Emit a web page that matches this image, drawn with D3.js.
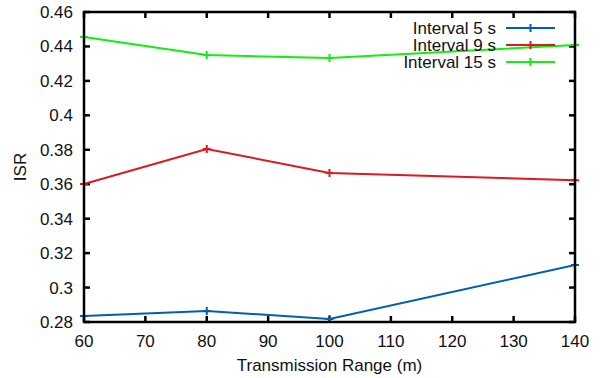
<html>
<head>
  <script src="https://d3js.org/d3.v7.min.js"></script>
  <style>
    body { margin: 0; background: white; }
    text { font-family: "Liberation Sans", Arial, sans-serif; font-size: 17px; fill: #111; }
    .frame { fill: none; stroke: black; stroke-width: 2.5px; }
  </style>
</head>
<body>
  <svg id="chart" width="604" height="378"></svg>
  <script>
    const ranges = [60, 80, 100, 140];
    const interval5 = [0.2835, 0.2864, 0.2817, 0.3131];
    const interval9 = [0.3601, 0.3805, 0.3665, 0.3623];
    const interval15 = [0.4455, 0.4350, 0.4333, 0.4408];
    const seriesNames = ["Interval 5 s", "Interval 9 s", "Interval 15 s"];
    const colors = ["#0060ad", "#dd181f", "#11ee11"];
    const xTicks = [60, 70, 80, 90, 100, 110, 120, 130, 140];
    const yTicks = [0.28, 0.3, 0.32, 0.34, 0.36, 0.38, 0.4, 0.42, 0.44, 0.46];

    const svg = d3.select("#chart");
    const margin = { top: 12, right: 29, bottom: 56, left: 84 };
    const w = 604 - margin.left - margin.right;
    const h = 378 - margin.top - margin.bottom;

    const x = d3.scaleLinear().domain([60, 140]).range([0, w]);
    const y = d3.scaleLinear().domain([0.28, 0.46]).range([h, 0]);

    const g = svg.append("g").attr("transform", `translate(${margin.left},${margin.top})`);

    // tick marks inward on all four sides
    const tickLen = 6;
    g.selectAll("line.xt").data(xTicks).join("line")
      .attr("x1", d => x(d)).attr("x2", d => x(d))
      .attr("y1", h).attr("y2", h - tickLen)
      .attr("stroke", "black").attr("stroke-width", 2.5);
    g.selectAll("line.xt2").data(xTicks).join("line")
      .attr("x1", d => x(d)).attr("x2", d => x(d))
      .attr("y1", 0).attr("y2", tickLen)
      .attr("stroke", "black").attr("stroke-width", 2.5);
    g.selectAll("line.yt").data(yTicks).join("line")
      .attr("x1", 0).attr("x2", tickLen)
      .attr("y1", d => y(d)).attr("y2", d => y(d))
      .attr("stroke", "black").attr("stroke-width", 2.5);
    g.selectAll("line.yt2").data(yTicks).join("line")
      .attr("x1", w).attr("x2", w - tickLen)
      .attr("y1", d => y(d)).attr("y2", d => y(d))
      .attr("stroke", "black").attr("stroke-width", 2.5);

    g.selectAll("text.xl").data(xTicks).join("text")
      .attr("x", d => x(d)).attr("y", h + 25)
      .attr("text-anchor", "middle").text(d => d);
    g.selectAll("text.yl").data(yTicks).join("text")
      .attr("x", -11).attr("y", d => y(d) + 6)
      .attr("text-anchor", "end").text(d => +d.toFixed(2));

    const line = d3.line().x((d, i) => x(ranges[i])).y(d => y(d));
    const allSeries = [interval5, interval9, interval15];

    allSeries.forEach((s, k) => {
      g.append("path").datum(s)
        .attr("fill", "none").attr("stroke", colors[k]).attr("stroke-width", 2)
        .attr("d", line);
      g.selectAll(null).data(s).join("path")
        .attr("transform", (d, i) => `translate(${x(ranges[i])},${y(d)})`)
        .attr("d", "M-4,0H4M0,-4V4")
        .attr("stroke", colors[k]).attr("stroke-width", 2);
    });

    // legend
    const leg = g.append("g").attr("transform", `translate(${w - 79},16)`);
    seriesNames.forEach((name, k) => {
      const ly = k * 17;
      leg.append("text").attr("x", 0).attr("y", ly + 6)
        .attr("text-anchor", "end").text(name);
      leg.append("line").attr("x1", 10).attr("x2", 59)
        .attr("y1", ly).attr("y2", ly)
        .attr("stroke", colors[k]).attr("stroke-width", 2);
      leg.append("path").attr("transform", `translate(34.5,${ly})`)
        .attr("d", "M-4,0H4M0,-4V4")
        .attr("stroke", colors[k]).attr("stroke-width", 2);
    });

    g.append("rect").attr("class", "frame").attr("width", w).attr("height", h);

    svg.append("text")
      .attr("x", margin.left + w / 2).attr("y", 371)
      .attr("text-anchor", "middle").text("Transmission Range (m)");
    svg.append("text")
      .attr("transform", `translate(26,${margin.top + h / 2}) rotate(-90)`)
      .attr("text-anchor", "middle").text("ISR");
  </script>
</body>
</html>
